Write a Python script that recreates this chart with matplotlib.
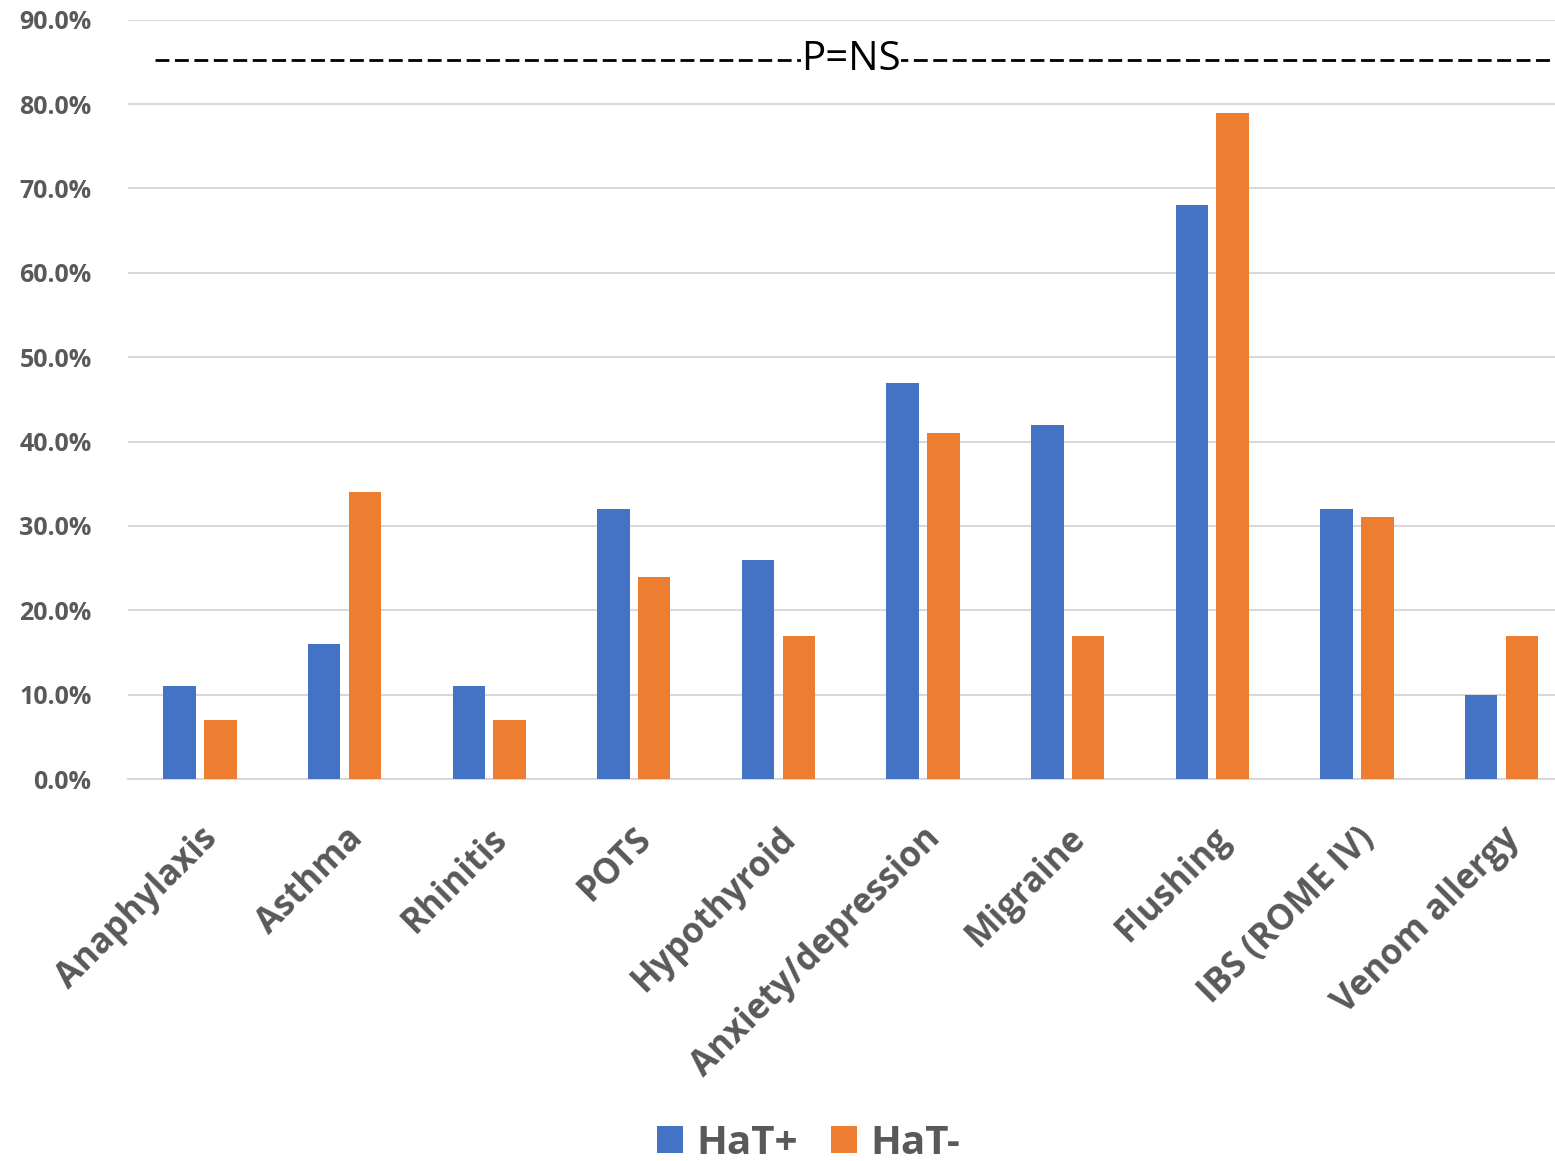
import numpy as np
import matplotlib.pyplot as plt
from matplotlib.ticker import FuncFormatter

#---Data---
categories = ['Anaphylaxis', 'Asthma', 'Rhinitis', 'POTS', 'Hypothyroid',
              'Anxiety/depression', 'Migraine', 'Flushing', 'IBS (ROME IV)',
              'Venom allergy']
hat_pos = [0.11, 0.16, 0.11, 0.32, 0.26, 0.47, 0.42, 0.68, 0.32, 0.10]
hat_neg = [0.07, 0.34, 0.07, 0.24, 0.17, 0.41, 0.17, 0.79, 0.31, 0.17]
p_level = 0.852

#---Plot---
plt.rcParams['font.family'] = ['Open Sans', 'DejaVu Sans']
grey = '#595959'

fig = plt.figure(figsize=(15.55, 11.61), dpi=100)
# plot area runs slightly past the right edge of the picture
ax = fig.add_axes([0.0821, 0.329, 0.93, 0.654])

x = np.arange(len(categories))
w = 0.225
off = 0.141
ax.bar(x - off, hat_pos, w, color='#4472C4', label='HaT+', zorder=3)
ax.bar(x + off, hat_neg, w, color='#ED7D31', label='HaT-', zorder=3)

ax.set_xlim(-0.5, len(categories) - 0.5)
ax.set_ylim(0, 0.9)
ax.set_yticks(np.arange(0, 0.91, 0.1))
ax.yaxis.set_major_formatter(FuncFormatter(lambda v, p: '%.1f%%' % (v * 100)))
ax.grid(axis='y', color='#d9d9d9', linewidth=1.5, zorder=0)
for s in ['left', 'right', 'top']:
    ax.spines[s].set_visible(False)
ax.spines['bottom'].set_color('#d9d9d9')
ax.spines['bottom'].set_linewidth(1.5)
ax.tick_params(axis='both', length=0)
ax.tick_params(axis='y', labelsize=18, labelcolor=grey, pad=26)
ax.set_xticks(x)
ax.set_xticklabels(categories, rotation=45, ha='right', rotation_mode='anchor',
                   fontsize=25, fontweight='bold', color=grey)
ax.tick_params(axis='x', pad=30)
for lab in ax.get_yticklabels():
    lab.set_fontweight('bold')

# significance line
ax.plot([-0.31, len(categories) - 0.5], [p_level, p_level], color='black',
        linestyle=(0, (5, 2)), linewidth=2, zorder=4, clip_on=False)
ax.text(4.5, p_level, 'P=NS', ha='center', va='center', fontsize=29,
        color='black', zorder=5,
        bbox=dict(facecolor='white', edgecolor='none', pad=0.3))

fig.legend(loc='center', bbox_to_anchor=(0.52, 0.015), ncol=2,
           frameon=False, prop={'size': 29, 'weight': 'bold'},
           handlelength=0.65, handleheight=0.65, columnspacing=0.8,
           handletextpad=0.35, labelcolor=grey)

plt.savefig('out.png', dpi=100)
